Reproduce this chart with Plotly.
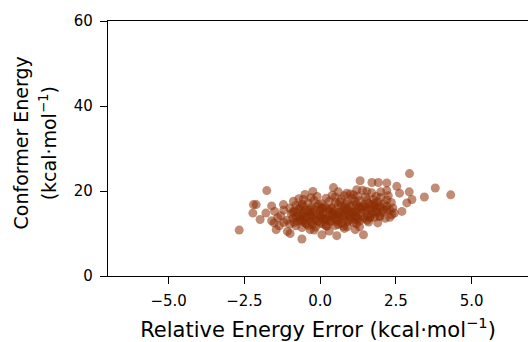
import plotly.graph_objects as go

# Relative energy error (x) and conformer energy (y), kcal/mol
x_err = [
    -2.67, -1.76, -2.2, -2.11, -2.22, -1.98, -1.79, -1.6, -1.52, -1.45, -1.21, -1.08, -0.99, -0.6,
    -0.24, 0.44, 0.06, 0.55, 1.16, 1.43, 1.32, 1.71, 1.92, 2.2, 2.95, 3.8, 4.31, 3.44, 2.94, 3.03,
    2.7, 2.37, 2.86, 2.62, 2.53, 1.21, 1.54, 0.88, -0.55, -0.88, 1.16, 0.77, -0.33, 0.22, 1.65,
    1.98, 2.2,
    -1.3, -1.2, -1.1, -1.0, -1.0, -0.95, -0.9, -0.85, -0.8, -0.8, -0.75, -0.7, -0.7, -0.65, -0.6,
    -0.6, -0.55, -0.5, -0.5, -0.45, -0.4, -0.4, -0.35, -0.3, -0.3, -0.25, -0.2, -0.2, -0.15, -0.1,
    -0.1, -0.05, 0.0, 0.0, 0.05, 0.1, 0.1, 0.15, 0.2, 0.2, 0.25, 0.3, 0.3, 0.35, 0.4, 0.4, 0.45,
    0.5, 0.5, 0.55, 0.6, 0.6, 0.65, 0.7, 0.7, 0.75, 0.8, 0.8, 0.85, 0.9, 0.9, 0.95, 1.0, 1.0, 1.05,
    1.1, 1.1, 1.15, 1.2, 1.2, 1.25, 1.3, 1.3, 1.35, 1.4, 1.45, 1.5, 1.5, 1.55, 1.6, 1.6, 1.65, 1.7,
    1.75, 1.8, 1.8, 1.85, 1.9, 1.95, 2.0, 2.0, 2.05, 2.1, 2.15, 2.2, 2.25, 2.3, 2.35, 2.4, 2.45,
    -0.9, -0.6, -0.3, 0.0, 0.3, 0.6, 0.9, 1.2, 1.5, 1.8, -0.8, -0.4, 0.1, 0.5, 0.8, 1.1, 1.4, 1.7,
    2.1, -1.2, -1.4, -1.5, -1.6, -1.35, -0.2, 0.3, 0.8, 1.3, 1.9, 2.3, -0.7, -0.1, 0.4, 1.0, 1.7,
    2.2, 2.0, 1.4, 0.6, -0.5,
    -0.75, -0.55, -0.35, -0.15, 0.05, 0.25, 0.45, 0.65, 0.85, 1.05, 1.25, 1.45, 1.65, 1.85,
    -0.65, -0.45, -0.25, -0.05, 0.15, 0.35, 0.55, 0.75, 0.95, 1.15, 1.35, 1.55, 1.75, 1.95,
    -0.5, -0.2, 0.1, 0.4, 0.7, 1.0, 1.3, 1.6, 1.9, 2.2,
    -0.85, -0.55, -0.25, 0.05, 0.35, 0.65, 0.95, 1.25, 1.55, 1.85,
    0.2, 0.5, 0.8, 1.1, -0.3, 0.0, 0.6, 1.2, -0.6, 0.9,
]
y_energy = [
    10.8, 20.1, 16.8, 16.8, 14.8, 13.3, 14.8, 16.5, 12.5, 10.9, 16.8, 10.5, 10.0, 8.7,
    19.9, 20.8, 9.7, 9.5, 10.9, 9.7, 22.4, 22.0, 22.0, 21.9, 24.1, 20.7, 19.1, 18.6, 19.8, 18.0,
    15.2, 14.4, 17.2, 19.5, 21.1, 20.3, 19.9, 19.5, 18.0, 17.6, 13.3, 11.7, 10.9, 11.7, 13.7,
    14.0, 15.6,
    14.2, 15.5, 13.1, 16.0, 12.2, 14.6, 13.5, 15.3, 11.8, 16.6, 12.9, 14.0, 15.8, 13.3, 11.4,
    16.9, 14.8, 12.5, 15.5, 13.7, 17.2, 11.9, 14.3, 16.1, 12.8, 15.0, 13.4, 17.8, 11.5, 14.6,
    16.5, 12.9, 15.4, 13.8, 17.0, 12.2, 14.9, 16.3, 13.5, 11.8, 15.7, 14.2, 17.6, 12.7, 16.0, 13.9, 15.2,
    11.9, 17.3, 14.5, 13.1, 16.7, 15.0, 12.4, 18.1, 14.1, 16.2, 13.4, 15.6, 17.5, 12.8, 14.7, 16.4, 13.6, 18.3,
    15.1, 12.6, 14.3, 16.9, 13.9, 15.8, 17.7, 12.9, 14.9, 16.3, 13.5, 18.6, 15.4, 14.2, 17.1, 12.7, 15.9, 14.6,
    18.0, 16.5, 13.8, 15.2, 17.4, 14.1, 16.1, 18.5, 15.0, 17.0, 13.6, 16.4, 18.9, 15.5, 17.3, 16.0, 14.8,
    15.0, 14.3, 13.9, 14.5, 15.3, 14.8, 15.7, 15.0, 16.2, 17.1, 13.8, 15.2, 16.0, 13.6, 14.4, 16.6, 14.0, 16.8,
    15.6, 12.6, 13.7, 15.2, 13.0, 11.8, 10.8, 10.6, 11.2, 11.6, 12.5, 13.8, 18.2, 18.7, 19.0, 19.3, 19.6,
    20.1, 19.8, 20.2, 19.8, 19.2,
    14.9, 13.2, 15.6, 13.0, 14.1, 13.2, 14.6, 13.8, 16.9, 14.8, 13.4, 16.8, 13.9, 16.0,
    16.2, 12.3, 14.1, 16.8, 13.6, 15.8, 12.9, 15.3, 13.1, 17.6, 15.9, 17.8, 15.1, 16.6,
    14.0, 15.7, 13.2, 14.8, 16.3, 15.1, 16.2, 15.6, 14.9, 17.9,
    12.6, 16.4, 12.1, 15.9, 13.0, 17.4, 14.2, 18.8, 13.1, 18.7,
    18.3, 18.6, 18.9, 19.1, 18.4, 12.4, 12.1, 12.3, 12.9, 11.6,
]

x_ticks = [-5.0, -2.5, 0.0, 2.5, 5.0]
x_tick_text = ["\u22125.0", "\u22122.5", "0.0", "2.5", "5.0"]
y_ticks = [0, 20, 40, 60]
y_title_lines = ["Conformer Energy", "(kcal\u00b7mol<sup>\u22121</sup>)"]

fig = go.Figure(
    go.Scatter(
        x=x_err,
        y=y_energy,
        mode="markers",
        marker=dict(size=9, color="#8c2d04", opacity=0.55, line=dict(width=0)),
        showlegend=False,
    )
)

font = "DejaVu Sans, sans-serif"
fig.update_layout(
    width=528,
    height=342,
    margin=dict(l=108, r=0, t=21, b=66),
    paper_bgcolor="white",
    plot_bgcolor="white",
    font=dict(family=font, color="black", size=15),
)
fig.update_xaxes(
    range=[-7.0, 6.86],
    tickvals=x_ticks,
    ticktext=x_tick_text,
    showgrid=False,
    zeroline=False,
    showline=True,
    mirror=True,
    linecolor="black",
    linewidth=1.3,
    ticks="outside",
    ticklen=7,
    tickwidth=1.2,
    tickcolor="black",
    tickfont=dict(size=15),
    ticklabelstandoff=4,
    title=dict(text="Relative Energy Error (kcal\u00b7mol<sup>\u22121</sup>)", font=dict(size=21), standoff=13),
)
fig.update_yaxes(
    range=[0, 60],
    tickvals=y_ticks,
    showgrid=False,
    zeroline=False,
    showline=True,
    mirror=False,
    linecolor="black",
    linewidth=1.3,
    ticks="outside",
    ticklen=7,
    tickwidth=1.2,
    tickcolor="black",
    tickfont=dict(size=15),
    ticklabelstandoff=4,
)

# two-line y-axis title with the reference's wider line spacing
for xp, line in zip([-0.207, -0.143], y_title_lines):
    fig.add_annotation(
        text=line, xref="paper", yref="paper", x=xp, y=0.52,
        xanchor="center", yanchor="middle", textangle=-90,
        showarrow=False, font=dict(size=19, family=font, color="black"),
    )

fig.write_html("out.html")
